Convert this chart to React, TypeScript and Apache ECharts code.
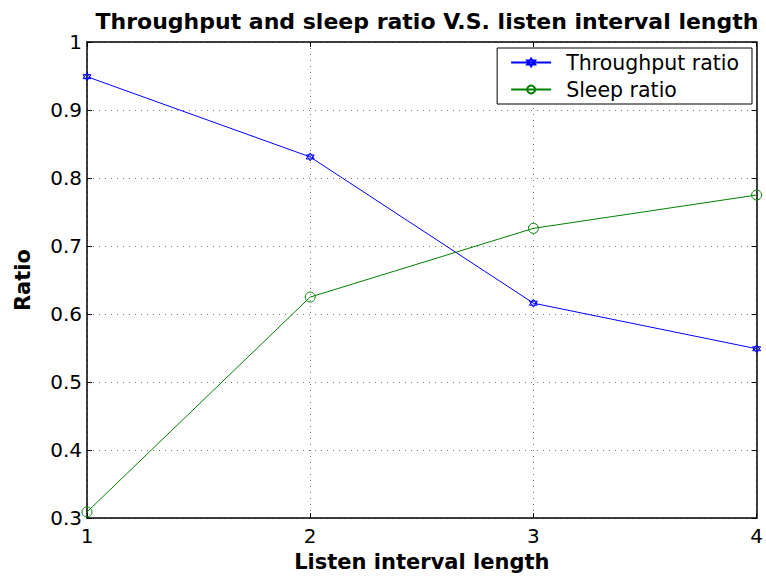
import React, { useEffect, useRef } from "react";
import * as echarts from "echarts";

const xValues = [1, 2, 3, 4];
const throughputRatio = [0.949, 0.831, 0.616, 0.549];
const sleepRatio = [0.309, 0.625, 0.726, 0.775];
const seriesNames = ["Throughput ratio", "Sleep ratio"];

const FONT = "'DejaVu Sans', Arial, Helvetica, sans-serif";
const hexagram = "path://M0,-10 L8.66,5 L-8.66,5 Z M0,10 L8.66,-5 L-8.66,-5 Z";

export default function App() {
  const ref = useRef<HTMLDivElement>(null);
  useEffect(() => {
    document.body.style.margin = "0";
    const chart = echarts.init(ref.current!, null, { renderer: "svg" });
    const axisCommon = {
      axisLine: { show: true, lineStyle: { color: "#000", width: 1.5 } },
      axisTick: { show: true, inside: true, length: 5, lineStyle: { color: "#000" } },
    };
    chart.setOption({
      animation: false,
      backgroundColor: "#fff",
      title: {
        text: "Throughput and sleep ratio V.S. listen interval length",
        left: 422,
        textAlign: "center",
        top: 5,
        textStyle: { fontFamily: FONT, fontSize: 22, fontWeight: "bold", color: "#000" },
      },
      legend: {
        right: 14,
        top: 48,
        orient: "vertical",
        backgroundColor: "#fff",
        borderColor: "#000",
        borderWidth: 1,
        borderRadius: 0,
        padding: [4, 13, 4, 13],
        itemGap: 6,
        itemWidth: 40,
        itemHeight: 10,
        textStyle: { fontFamily: FONT, fontSize: 20.5, color: "#000", padding: [0, 0, 0, 10] },
        data: seriesNames,
      },
      grid: { left: 87, right: 7, top: 42, bottom: 54 },
      xAxis: [
        {
          type: "value",
          min: 1,
          max: 4,
          interval: 1,
          name: "Listen interval length",
          nameLocation: "middle",
          nameGap: 25,
          nameTextStyle: { fontFamily: FONT, fontSize: 21, fontWeight: "bold", color: "#000" },
          ...axisCommon,
          axisLabel: { fontFamily: FONT, fontSize: 20, color: "#000", margin: 8 },
          splitLine: { show: true, lineStyle: { type: [1, 5], color: "#777", width: 1 } },
        },
        {
          type: "value",
          position: "top",
          min: 1,
          max: 4,
          interval: 1,
          ...axisCommon,
          axisLabel: { show: false },
          splitLine: { show: false },
        },
      ],
      yAxis: [
        {
          type: "value",
          min: 0.3,
          max: 1,
          interval: 0.1,
          name: "Ratio",
          nameLocation: "middle",
          nameGap: 54,
          nameTextStyle: { fontFamily: FONT, fontSize: 21, fontWeight: "bold", color: "#000" },
          ...axisCommon,
          axisLabel: {
            fontFamily: FONT,
            fontSize: 20,
            color: "#000",
            margin: 5,
            formatter: (v: number) => String(+v.toFixed(1)),
          },
          splitLine: { show: true, lineStyle: { type: [1, 5], color: "#777", width: 1 } },
        },
        {
          type: "value",
          position: "right",
          min: 0.3,
          max: 1,
          interval: 0.1,
          ...axisCommon,
          axisLabel: { show: false },
          splitLine: { show: false },
        },
      ],
      series: [
        {
          name: seriesNames[0],
          type: "line",
          data: xValues.map((x, i) => [x, throughputRatio[i]]),
          symbol: hexagram,
          symbolSize: 8,
          lineStyle: { color: "#0000ff", width: 1 },
          itemStyle: { color: "transparent", borderColor: "#0000ff", borderWidth: 1 },
        },
        {
          name: seriesNames[1],
          type: "line",
          data: xValues.map((x, i) => [x, sleepRatio[i]]),
          symbol: "circle",
          symbolSize: 10,
          lineStyle: { color: "#008000", width: 1 },
          itemStyle: { color: "transparent", borderColor: "#008000", borderWidth: 1 },
        },
      ],
    });
    return () => chart.dispose();
  }, []);
  return <div ref={ref} style={{ width: 766, height: 577 }} />;
}
